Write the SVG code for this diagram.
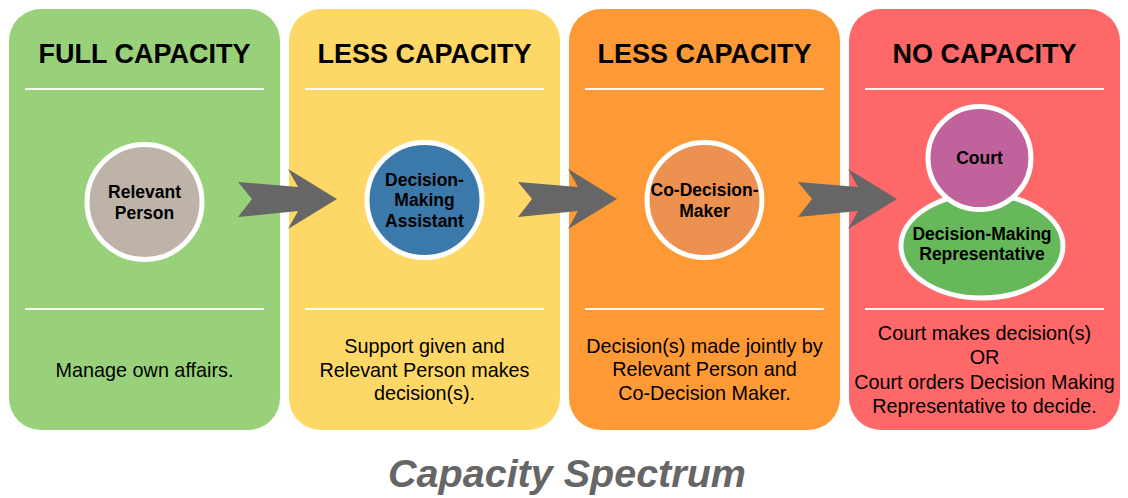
<svg xmlns="http://www.w3.org/2000/svg" width="1128" height="498" viewBox="0 0 1128 498">
<defs>
<style>
.panel{stroke:none}
.sep{stroke:#ffffff;stroke-width:2;opacity:0.9}
.head{font-family:"Liberation Sans",Arial,sans-serif;font-weight:bold;font-size:27px;fill:#000;text-anchor:middle}
.node{stroke:#ffffff;stroke-width:5}
.nt{font-family:"Liberation Sans",Arial,sans-serif;font-weight:bold;font-size:17.5px;fill:#000;text-anchor:middle}
.bt{font-family:"Liberation Sans",Arial,sans-serif;font-size:19.8px;fill:#000;text-anchor:middle}
.arrow{fill:#666666}
.title{font-family:"Liberation Sans",Arial,sans-serif;font-weight:bold;font-style:italic;font-size:39.5px;fill:#666666;text-anchor:middle}
</style>
<polygon id="arr" points="0,-17 60,-12 50,-30 99,0 50,30 60,12 0,18 14,0"/>
</defs>
<g id="panel-full">
<rect class="panel" x="9" y="9" width="271" height="421" rx="32" fill="#99d17a"/>
<text class="head" x="144.5" y="63">FULL CAPACITY</text>
<line class="sep" x1="25" y1="89" x2="264" y2="89"/>
<line class="sep" x1="25" y1="309" x2="264" y2="309"/>
<text class="bt" x="144.5" y="377">Manage own affairs.</text>
</g>
<g id="panel-less1">
<rect class="panel" x="289" y="9" width="271" height="421" rx="32" fill="#fed866"/>
<text class="head" x="424.5" y="63">LESS CAPACITY</text>
<line class="sep" x1="305" y1="89" x2="544" y2="89"/>
<line class="sep" x1="305" y1="309" x2="544" y2="309"/>
<text class="bt" x="424.5" y="353">Support given and</text>
<text class="bt" x="424.5" y="377">Relevant Person makes</text>
<text class="bt" x="424.5" y="400">decision(s).</text>
</g>
<g id="panel-less2">
<rect class="panel" x="569" y="9" width="271" height="421" rx="32" fill="#fd9a36"/>
<text class="head" x="704.5" y="63">LESS CAPACITY</text>
<line class="sep" x1="585" y1="89" x2="824" y2="89"/>
<line class="sep" x1="585" y1="309" x2="824" y2="309"/>
<text class="bt" x="704.5" y="353">Decision(s) made jointly by</text>
<text class="bt" x="704.5" y="376">Relevant Person and</text>
<text class="bt" x="704.5" y="400">Co-Decision Maker.</text>
</g>
<g id="panel-none">
<rect class="panel" x="849" y="9" width="271" height="421" rx="32" fill="#fe6868"/>
<text class="head" x="984.5" y="63">NO CAPACITY</text>
<line class="sep" x1="865" y1="89" x2="1104" y2="89"/>
<line class="sep" x1="865" y1="309" x2="1104" y2="309"/>
<text class="bt" x="984.5" y="340">Court makes decision(s)</text>
<text class="bt" x="984.5" y="364">OR</text>
<text class="bt" x="984.5" y="389">Court orders Decision Making</text>
<text class="bt" x="984.5" y="413">Representative to decide.</text>
</g>
<g id="connectors">
<use href="#arr" class="arrow" x="238" y="199"/>
<use href="#arr" class="arrow" x="518" y="199"/>
<use href="#arr" class="arrow" x="798" y="199"/>
</g>
<g id="node-relevant-person">
<circle class="node" cx="144.5" cy="202" r="57.5" fill="#beb3a8"/>
<text class="nt" x="144.5" y="198">Relevant</text>
<text class="nt" x="144.5" y="219">Person</text>
</g>
<g id="node-assistant">
<circle class="node" cx="424.5" cy="200" r="57.5" fill="#3b79ab"/>
<text class="nt" x="424.5" y="186">Decision-</text>
<text class="nt" x="424.5" y="206">Making</text>
<text class="nt" x="424.5" y="227">Assistant</text>
</g>
<g id="node-co-decision-maker">
<circle class="node" cx="704.5" cy="200" r="57.5" fill="#ec9150"/>
<text class="nt" x="704.5" y="196">Co-Decision-</text>
<text class="nt" x="704.5" y="217">Maker</text>
</g>
<g id="node-representative">
<ellipse class="node" cx="982" cy="246" rx="81" ry="52" fill="#66b85b"/>
<text class="nt" x="982" y="240">Decision-Making</text>
<text class="nt" x="982" y="260">Representative</text>
</g>
<g id="node-court">
<circle class="node" cx="979.5" cy="158" r="51.5" fill="#c0629b"/>
<text class="nt" x="979.5" y="164">Court</text>
</g>
<text class="title" x="567" y="487">Capacity Spectrum</text>
</svg>
